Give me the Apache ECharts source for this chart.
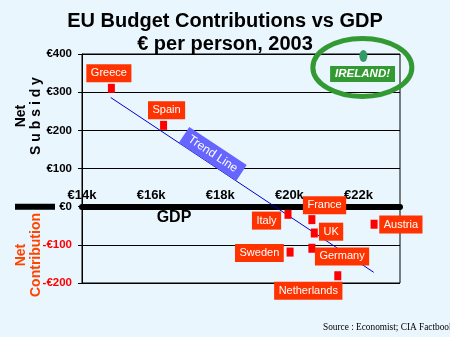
<!DOCTYPE html>
<html><head><meta charset="utf-8">
<script src="https://cdn.jsdelivr.net/npm/echarts@6/dist/echarts.min.js"></script>
<style>html,body{margin:0;padding:0;background:#EAF6FE}#c{width:450px;height:337px}</style>
</head><body><div id="c"></div>
<script>
// ---- data ----
const countries = ['Greece','Spain','Italy','France','UK','Sweden','Germany','Netherlands','Austria'];
const gdpK = [14.85,16.36,19.96,20.65,20.72,20.02,20.65,21.40,22.45];
const netSubsidy = [310,213,-20,-34,-69,-119,-109,-181,-46];
const irelandName = ['IRELAND!'];
const irelandGdpK = [22.14];
const irelandSubsidy = [395];
const trendGdpK = [14.83,22.44];
const trendValue = [286,-172];
const xTickValues = [14,16,18,20,22];
const yTickValues = [-200,-100,0,100,200,300,400];

// ---- label placement (styling, px offsets from marker centre) ----
const labelOffset = {
  Greece:[-2.5,-15], Spain:[3,-15], Italy:[-21.5,6.3], France:[12.7,-14.5], UK:[16.8,-1.3],
  Sweden:[-30.7,0.8], Germany:[30.2,8.2], Netherlands:[-29.5,14.9], Austria:[26.8,0.4]
};

const chart = echarts.init(document.getElementById('c'), null, {renderer:'canvas'});
const SANS = '"Liberation Sans",Arial,sans-serif';
const GRID = {left:82, right:50, top:54, bottom:54};
const yMin = -200, yMax = 400;
// move the x axis up to the zero level of the value axis
const gridH = 337 - GRID.top - GRID.bottom;
const xAxisOffset = -gridH * (0 - yMin) / (yMax - yMin);

const countryData = countries.map((n,i)=>({
  name:n, value:[gdpK[i], netSubsidy[i]],
  label:{offset:labelOffset[n]}
}));

const option = {
  backgroundColor:'#EAF6FE',
  animation:false,
  title:{
    text:'EU Budget Contributions vs GDP\n€ per person, 2003',
    left:'center', top:10, padding:0,
    textStyle:{fontFamily:SANS, fontSize:20, fontWeight:'bold', color:'#000', lineHeight:23}
  },
  grid:Object.assign({show:true, borderColor:'#000', borderWidth:1, backgroundColor:'transparent'}, GRID),
  xAxis:{
    type:'value', min:14, max:23.2, interval:2, position:'bottom', offset:xAxisOffset,
    axisLine:{onZero:false, lineStyle:{color:'#000', width:6}},
    axisTick:{show:false},
    splitLine:{show:false},
    axisLabel:{inside:true, margin:5, showMaxLabel:false,
      formatter:v=> xTickValues.indexOf(v)>=0 ? '€'+v+'k' : '',
      fontFamily:SANS, fontWeight:'bold', fontSize:13, color:'#000'}
  },
  yAxis:{
    type:'value', min:yMin, max:yMax, interval:100,
    axisLine:{show:true, onZero:false, lineStyle:{color:'#000', width:1}},
    axisTick:{show:true, length:4, lineStyle:{color:'#000'}},
    splitLine:{show:true, lineStyle:{color:'#000', width:1}},
    axisLabel:{margin:10,
      formatter:v=> yTickValues.indexOf(v)<0 ? '' : (v<0 ? '-€'+(-v) : '€'+v),
      color:v=> v<0 ? '#FF0000' : '#000',
      fontFamily:SANS, fontWeight:'bold', fontSize:11.5}
  },
  series:[
    {
      type:'line', data:trendGdpK.map((x,i)=>[x,trendValue[i]]),
      symbol:'none', lineStyle:{color:'#0000CC', width:1}, z:2, silent:true
    },
    {
      type:'scatter', data:countryData, symbol:'rect', symbolSize:[7,9],
      itemStyle:{color:'#FF0000', opacity:1}, z:3,
      label:{show:true, position:'inside', formatter:'{b}', color:'#fff', opacity:1,
        fontFamily:SANS, fontSize:11, lineHeight:12,
        backgroundColor:'#FF3300', padding:[3,4.5,3,4.5]}
    },
    {
      type:'scatter', data:irelandGdpK.map((x,i)=>({name:irelandName[i], value:[x,irelandSubsidy[i]]})),
      symbol:'circle', symbolSize:[8,12], itemStyle:{color:'#339966', opacity:1}, z:3,
      label:{show:true, position:'inside', offset:[-0.8,18.2], formatter:'{b}', color:'#fff', opacity:1,
        fontFamily:SANS, fontSize:11.5, fontWeight:'bold', fontStyle:'italic', lineHeight:12,
        backgroundColor:'#339933', padding:[2,5,2,5]}
    }
  ]
};
chart.setOption(option);

// ---- annotations positioned through the chart's own scales ----
const p1 = chart.convertToPixel({gridIndex:0}, [trendGdpK[0], trendValue[0]]);
const p2 = chart.convertToPixel({gridIndex:0}, [trendGdpK[1], trendValue[1]]);
const th = Math.atan2(p2[1]-p1[1], p2[0]-p1[0]);
const t = 0.368;
const bx = p1[0] + t*(p2[0]-p1[0]), by = p1[1] + t*(p2[1]-p1[1]);
const cx = bx + 9.5*Math.sin(th), cy = by - 9.5*Math.cos(th);
const ire = chart.convertToPixel({gridIndex:0}, [irelandGdpK[0], irelandSubsidy[0]]);
const zeroY = chart.convertToPixel({gridIndex:0}, [14, 0])[1];

chart.setOption({graphic:[
  {type:'rect', shape:{x:15, y:zeroY-3, width:40, height:6}, style:{fill:'#000'}},
  {type:'text', x:28.5, y:116, rotation:Math.PI/2,
    style:{text:'Net\nS u b s i d y', fill:'#000', font:'bold 14px '+SANS, align:'center', verticalAlign:'middle', lineHeight:15}},
  {type:'text', x:28.5, y:255, rotation:Math.PI/2,
    style:{text:'Net\nContribution', fill:'#FF4400', font:'bold 14px '+SANS, align:'center', verticalAlign:'middle', lineHeight:15}},
  {type:'text', x:174, y:218,
    style:{text:'GDP', fill:'#000', font:'bold 16px '+SANS, align:'center', verticalAlign:'middle'}},
  {type:'text', x:323, y:328,
    style:{text:'Source : Economist; CIA Factbook', fill:'#000', font:'9.3px "Liberation Serif","Times New Roman",serif', align:'left', verticalAlign:'middle'}},
  {type:'ellipse', shape:{cx:ire[0]-1, cy:ire[1]+11.5, rx:49.5, ry:29}, style:{fill:'none', stroke:'#339933', lineWidth:5}, z:10},
  {type:'text', x:cx, y:cy, rotation:-th, z:10,
    style:{text:'Trend Line', fill:'#fff', font:'12px '+SANS, align:'center', verticalAlign:'middle',
      backgroundColor:'#6666FF', padding:[3,6,3,6], lineHeight:13}}
]});
</script>
</body></html>
